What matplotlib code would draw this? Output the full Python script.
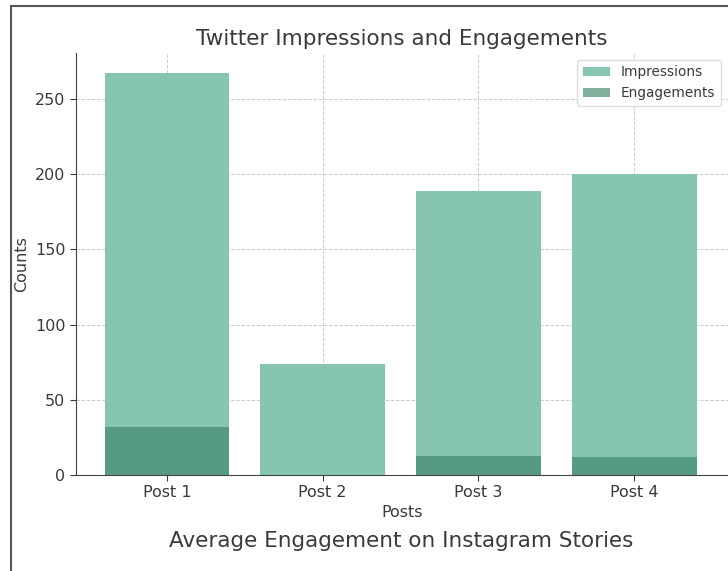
import matplotlib.pyplot as plt
from matplotlib.patches import Rectangle

posts = ['Post 1', 'Post 2', 'Post 3', 'Post 4']
impressions = [267, 74, 189, 200]
engagements = [32, 0, 13, 12]

text_col = '#3a3a3a'

fig = plt.figure(figsize=(7.28, 5.71), dpi=100)
ax = fig.add_axes([0.104, 0.168, 0.8956, 0.739])

ax.bar(posts, impressions, color='#86c5b2', label='Impressions', zorder=2)
ax.bar(posts, engagements, color='#3c8468', alpha=0.65, label='Engagements', zorder=3)
ax.set_xlim(-0.585, 3.6)

ax.set_title('Twitter Impressions and Engagements', fontsize=15.5, color=text_col, pad=6)
ax.set_xlabel('Posts', fontsize=11.5, color=text_col, labelpad=3)
ax.set_ylabel('Counts', fontsize=11.5, color=text_col, labelpad=4)
ax.tick_params(labelsize=11.5, colors=text_col, length=4)
ax.grid(True, linestyle='--', color='#cccccc', linewidth=0.7, zorder=0)
ax.set_axisbelow(True)
for s in ['top', 'right']:
    ax.spines[s].set_visible(False)
for s in ['left', 'bottom']:
    ax.spines[s].set_color('#444444')
ax.set_yticks([0, 50, 100, 150, 200, 250])

leg = ax.legend(loc='upper right', fontsize=9.8, framealpha=1, edgecolor='#dddddd',
                bbox_to_anchor=(0.9995, 1.0))
for t in leg.get_texts():
    t.set_color(text_col)

fig.text(0.551, 0.052, 'Average Engagement on Instagram Stories', ha='center', va='center',
         fontsize=15.5, color=text_col)

# frame of the screenshot
fig.patches.append(Rectangle((0.0145, -0.05), 1.2, 1.04, transform=fig.transFigure,
                             fill=False, edgecolor='#555555', linewidth=1.5))

fig.savefig('out.png', dpi=100)
